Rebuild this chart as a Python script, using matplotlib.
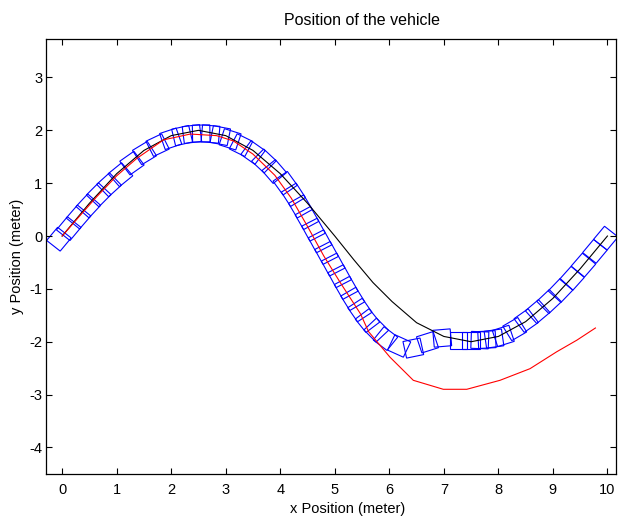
import matplotlib
matplotlib.use('Agg')
import matplotlib.pyplot as plt
from matplotlib.patches import Rectangle

plt.rc('font', family=['Liberation Sans', 'DejaVu Sans'])
plt.rc('axes', unicode_minus=False)

# Reference path (black)
ref_x = [0, 0.5, 1.0, 1.5, 2.0, 2.5, 3.0, 3.5, 4.0, 4.5, 5.0, 5.35, 5.7, 6.05, 6.5,
         7.0, 7.5, 8.0, 8.5, 9.0, 9.5, 10.0]
ref_y = [0, 0.62, 1.18, 1.62, 1.90, 2.0, 1.90, 1.62, 1.18, 0.62, 0, -0.45, -0.88,
         -1.24, -1.64, -1.90, -2.0, -1.90, -1.62, -1.18, -0.62, 0]

# Actual trajectory (red)
act_x = [0, 0.33, 0.63, 1.0, 1.37, 1.86, 2.35, 2.83, 3.14, 3.5, 3.9, 4.2, 4.49,
         4.8, 5.1, 5.47, 5.62, 6.01, 6.44, 6.99, 7.42, 8.03, 8.58, 9.07, 9.44, 9.78]
act_y = [0, 0.39, 0.74, 1.14, 1.47, 1.82, 1.93, 1.90, 1.80, 1.55, 1.15, 0.72, 0.20,
         -0.38, -0.88, -1.47, -1.81, -2.29, -2.73, -2.90, -2.90, -2.73, -2.51,
         -2.19, -1.97, -1.74]

# Vehicle outlines (blue): centre x, centre y, heading in degrees
veh_x = [-0.06, 0.12, 0.30, 0.48, 0.67, 0.86, 1.07, 1.28, 1.51, 1.75, 1.99, 2.20,
         2.38, 2.55, 2.72, 2.90, 3.08, 3.28, 3.50, 3.70, 3.89, 4.09, 4.24, 4.37,
         4.49, 4.61, 4.73, 4.85, 4.97, 5.09, 5.21, 5.33, 5.46, 5.60, 5.76, 5.93,
         6.18, 6.44, 6.70, 6.97, 7.27, 7.50, 7.66, 7.79, 7.92, 8.09, 8.30, 8.51,
         8.72, 8.93, 9.14, 9.35, 9.56, 9.77, 9.97]
veh_y = [-0.06, 0.14, 0.36, 0.57, 0.78, 0.97, 1.16, 1.38, 1.57, 1.72, 1.84, 1.90,
         1.93, 1.94, 1.93, 1.90, 1.83, 1.72, 1.58, 1.42, 1.22, 1.00, 0.78, 0.56,
         0.34, 0.12, -0.10, -0.32, -0.54, -0.76, -0.98, -1.19, -1.40, -1.60, -1.78,
         -1.94, -2.08, -2.12, -2.01, -1.93, -1.97, -1.97, -1.97, -1.96, -1.94,
         -1.89, -1.76, -1.60, -1.43, -1.24, -1.03, -0.80, -0.55, -0.29, -0.04]
veh_ang = [51, 51, 50, 48, 46, 43, 40, 36, 32, 26, 19, 13, 7, 1, -5, -11, -18, -27,
           -36, -44, -50, -55, -58, -60, -61, -62, -62, -62, -62, -62, -61, -59,
           -56, -52, -46, -38, -25, 12, 18, 5, 0, 0, -2, 3, 8, 18, 31, 36, 41, 44,
           47, 49, 50, 51, 51]
veh_size = 0.32

fig = plt.figure(figsize=(6.18, 5.19), dpi=100)
ax = fig.add_axes([0.075, 0.087, 0.922, 0.837])

ax.plot(ref_x, ref_y, color='k', linewidth=0.8)
ax.plot(act_x, act_y, color='r', linewidth=0.8)

for cx, cy, a in zip(veh_x, veh_y, veh_ang):
    rect = Rectangle((cx - veh_size / 2, cy - veh_size / 2), veh_size, veh_size,
                     angle=a, rotation_point='center', fill=False,
                     edgecolor='b', linewidth=0.8)
    ax.add_patch(rect)

ax.set_xlim(-0.29, 10.16)
ax.set_ylim(-4.5, 3.72)
ax.set_xticks(range(0, 11))
ax.set_yticks(range(-4, 4))
ax.tick_params(direction='in', top=True, right=True, length=4, labelsize=10.5,
               width=0.8)
ax.tick_params(axis='x', pad=6.5)
ax.tick_params(axis='y', pad=3)
for s in ax.spines.values():
    s.set_linewidth(0.9)

ax.set_title('Position of the vehicle', fontsize=11.5, pad=10.5, x=0.554)
ax.set_xlabel('x Position (meter)', fontsize=10.5, labelpad=4, x=0.528)
ax.set_ylabel('y Position (meter)', fontsize=10.5)

plt.savefig('out.png', dpi=100)
plt.close()
